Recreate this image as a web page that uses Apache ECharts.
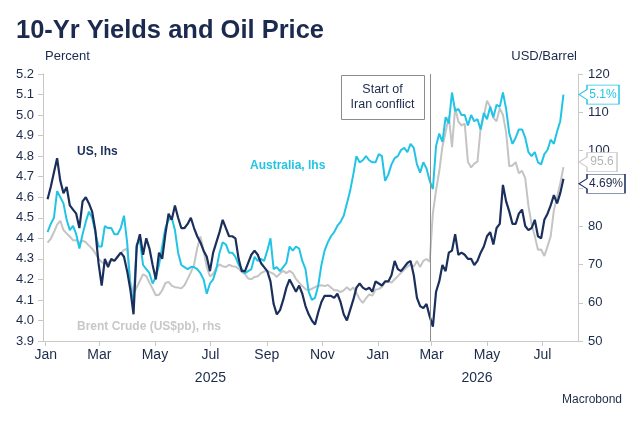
<!DOCTYPE html>
<html>
<head>
<meta charset="utf-8">
<script src="https://cdn.jsdelivr.net/npm/echarts@6/dist/echarts.min.js"></script>
<style>
    html, body { margin: 0; padding: 0; background: #fff; }
    #chart { width: 643px; height: 427px; }
</style>
</head>
<body>
<div id="chart"></div>
<script>
// observations every half week, first one on 3 Jan 2025
var firstObs = '2025-01-03'
var stepDays = 3.5

var usYield = [4.59, 4.65, 4.72, 4.79, 4.68, 4.62, 4.65, 4.56, 4.54, 4.52,
    4.45, 4.58, 4.60, 4.57, 4.53, 4.44, 4.28, 4.17, 4.30, 4.26,
    4.30, 4.29, 4.31, 4.33, 4.31, 4.24, 4.15, 4.03, 4.36, 4.42,
    4.32, 4.40, 4.35, 4.27, 4.20, 4.33, 4.30, 4.42, 4.52, 4.49,
    4.56, 4.50, 4.45, 4.45, 4.47, 4.50, 4.45, 4.41, 4.38, 4.34,
    4.31, 4.24, 4.33, 4.38, 4.43, 4.49, 4.45, 4.41, 4.41, 4.40,
    4.30, 4.24, 4.24, 4.28, 4.32, 4.34, 4.32, 4.28, 4.26, 4.24,
    4.19, 4.08, 4.03, 4.05, 4.10, 4.16, 4.20, 4.17, 4.14, 4.17,
    4.13, 4.07, 4.03, 4.00, 3.98, 4.04, 4.09, 4.12, 4.12, 4.12,
    4.11, 4.13, 4.09, 4.03, 4.00, 4.05, 4.10, 4.16, 4.18, 4.16,
    4.15, 4.16, 4.14, 4.19, 4.18, 4.17, 4.19, 4.19, 4.22, 4.29,
    4.25, 4.24, 4.26, 4.28, 4.29, 4.22, 4.11, 4.07, 4.06, 4.08,
    4.02, 3.97, 4.14, 4.19, 4.27, 4.24, 4.33, 4.34, 4.42, 4.32,
    4.33, 4.32, 4.30, 4.30, 4.27, 4.29, 4.33, 4.36, 4.41, 4.43,
    4.37, 4.45, 4.47, 4.66, 4.58, 4.53, 4.47, 4.47, 4.52, 4.54,
    4.46, 4.44, 4.45, 4.49, 4.41, 4.40, 4.49, 4.52, 4.56, 4.61,
    4.57, 4.62, 4.69]

var auYield = [4.43, 4.47, 4.50, 4.63, 4.60, 4.57, 4.49, 4.44, 4.46, 4.42,
    4.35, 4.42, 4.48, 4.53, 4.50, 4.43, 4.36, 4.36, 4.46, 4.45,
    4.45, 4.42, 4.42, 4.45, 4.51, 4.38, 4.16, 4.09, 4.37, 4.39,
    4.27, 4.25, 4.23, 4.18, 4.21, 4.27, 4.36, 4.45, 4.49, 4.50,
    4.44, 4.33, 4.27, 4.26, 4.25, 4.26, 4.26, 4.25, 4.23, 4.20,
    4.13, 4.18, 4.20, 4.25, 4.33, 4.38, 4.37, 4.33, 4.33, 4.31,
    4.27, 4.25, 4.23, 4.24, 4.25, 4.31, 4.29, 4.30, 4.29, 4.34,
    4.40, 4.25, 4.26, 4.24, 4.26, 4.28, 4.36, 4.34, 4.36, 4.35,
    4.29, 4.25, 4.14, 4.10, 4.11, 4.17, 4.27, 4.34, 4.38, 4.41,
    4.43, 4.46, 4.48, 4.51, 4.57, 4.63, 4.71, 4.80, 4.77, 4.78,
    4.80, 4.78, 4.77, 4.77, 4.81, 4.80, 4.68, 4.71, 4.76, 4.79,
    4.80, 4.83, 4.84, 4.82, 4.86, 4.84, 4.76, 4.72, 4.77, 4.74,
    4.68, 4.64, 4.85, 4.91, 4.87, 4.99, 4.96, 5.11, 5.02, 5.03,
    5.00, 5.00, 4.95, 5.00, 4.97, 4.98, 4.93, 5.01, 4.98, 5.04,
    4.99, 5.05, 5.04, 5.11, 5.03, 4.91, 4.86, 4.89, 4.93, 4.93,
    4.89, 4.82, 4.80, 4.82, 4.77, 4.76, 4.81, 4.83, 4.88, 4.86,
    4.92, 4.97, 5.10]

var brent = [75.8, 76.8, 78.5, 80.5, 81.5, 79.1, 78.2, 77.4, 76.4, 76.4,
    75.7, 76.3, 75.9, 75.0, 74.2, 73.0, 71.6, 70.7, 70.3, 70.6,
    71.0, 71.1, 72.2, 73.0, 73.9, 74.2, 65.5, 62.4, 64.1, 65.8,
    67.5, 67.0, 65.3, 63.7, 62.0, 62.1, 63.3, 65.2, 65.5, 64.5,
    64.1, 64.0, 63.8, 64.6, 66.3, 68.0, 70.0, 74.3, 77.4, 73.6,
    69.4, 66.9, 67.6, 69.2, 70.1, 69.6, 69.4, 70.0, 69.6, 69.5,
    69.0, 68.1, 67.5, 66.4, 66.2, 66.8, 67.0, 67.8, 68.2, 68.4,
    68.0, 67.6, 66.8, 67.7, 68.4, 67.8, 68.4, 67.8, 66.3, 65.3,
    64.4, 63.6, 63.3, 63.7, 64.1, 64.5, 64.6, 64.4, 64.7, 64.0,
    63.3, 63.3, 62.8, 63.3, 64.1, 63.3, 64.0, 62.6, 61.0, 60.0,
    61.2, 62.2, 61.9, 63.5, 63.6, 64.2, 65.5, 65.6, 65.3, 66.2,
    67.0, 67.9, 68.7, 69.5, 70.1, 69.5, 71.0, 69.4, 71.0, 71.5,
    70.8, 83.5, 89.5, 94.5, 101.0, 104.8, 109.0, 100.8, 111.2, 107.5,
    106.5, 107.0, 97.0, 95.5, 96.5, 97.0, 105.8, 109.0, 113.0, 111.4,
    108.5, 107.6, 111.0, 109.3, 104.7, 95.8, 96.0, 96.9, 94.0, 94.6,
    92.7, 85.5, 80.6, 77.5, 73.9, 74.0, 72.3, 74.8, 77.5, 84.3,
    87.8, 91.3, 95.6]

var monthTicks = ['2025-01-01', '2025-03-01', '2025-05-01', '2025-07-01', '2025-09-01', '2025-11-01',
    '2026-01-01', '2026-03-01', '2026-05-01', '2026-07-01']
var monthNames = ['Jan', 'Feb', 'Mar', 'Apr', 'May', 'Jun', 'Jul', 'Aug', 'Sep', 'Oct', 'Nov', 'Dec']
var yearTicks = ['2025-07-01', '2026-04-20']
var axisStart = '2024-12-29'
var axisEnd = '2026-08-09'
var conflictDate = '2026-02-28'

var navy = '#1b2f5c'
var cyan = '#22c4e6'
var grey = '#c4c4c4'
var textColor = '#1c2b4b'
var fontFamily = '"Liberation Sans", Arial, sans-serif'

function toTime(s) {
    var p = s.split('-')
    return new Date(+p[0], +p[1] - 1, +p[2]).getTime()
}

function withDates(values) {
    var t0 = toTime(firstObs)
    return values.map(function (v, i) {
        return [t0 + i * stepDays * 86400000, v]
    })
}

var xMin = toTime(axisStart)
var xMax = toTime(axisEnd)

// value tag sitting on the right axis, pointing left
function tag(text, value, color, textCol, width, dy) {
    var w = width, h = 19
    return {
        symbol: 'path://M0,9.5L8,4.5L8,0L' + w + ',0L' + w + ',19L8,19L8,14.5Z',
        symbolSize: [w, h],
        symbolOffset: [w / 2 + 1, dy],
        silent: true,
        itemStyle: { color: '#fff', borderColor: color, borderWidth: 1 },
        label: {
            show: true, position: 'inside', offset: [4, 0],
            formatter: text, color: textCol, fontSize: 12, fontFamily: fontFamily
        },
        data: [{ coord: [xMax, value] }]
    }
}

var myChart = echarts.init(document.getElementById('chart'))

myChart.setOption({
    animation: false,
    backgroundColor: '#fff',
    textStyle: { fontFamily: fontFamily },
    grid: { left: 43, right: 65, top: 74, bottom: 86 },
    xAxis: [
        {
            type: 'value',
            min: xMin,
            max: xMax,
            axisLine: { lineStyle: { color: '#c8c8c8', width: 1 } },
            axisTick: { show: true, length: 5, customValues: monthTicks.map(toTime), lineStyle: { color: '#c8c8c8' } },
            axisLabel: {
                customValues: monthTicks.map(toTime),
                formatter: function (v) { return monthNames[new Date(v).getMonth()] },
                color: textColor, fontSize: 14, margin: 7, fontFamily: fontFamily
            },
            splitLine: { show: false }
        },
        {
            type: 'value',
            position: 'bottom',
            offset: 23,
            min: xMin,
            max: xMax,
            axisLine: { show: false },
            axisTick: { show: false },
            axisLabel: {
                customValues: yearTicks.map(toTime),
                formatter: function (v) { return String(new Date(v).getFullYear()) },
                color: textColor, fontSize: 14, margin: 7, fontFamily: fontFamily
            },
            splitLine: { show: false }
        }
    ],
    yAxis: [
        {
            type: 'value',
            min: 3.9, max: 5.2, interval: 0.1,
            axisLine: { show: true, lineStyle: { color: '#c8c8c8' } },
            axisTick: { show: true, length: 5, lineStyle: { color: '#c8c8c8' } },
            axisLabel: {
                formatter: function (v) { return v.toFixed(1) },
                color: textColor, fontSize: 13, margin: 9, fontFamily: fontFamily
            },
            splitLine: { show: false }
        },
        {
            type: 'value',
            min: 50, max: 120, interval: 10,
            position: 'right',
            axisLine: { show: true, lineStyle: { color: '#c8c8c8' } },
            axisTick: { show: true, length: 5, lineStyle: { color: '#c8c8c8' } },
            axisLabel: { color: textColor, fontSize: 13, margin: 10, fontFamily: fontFamily },
            splitLine: { show: false }
        }
    ],
    graphic: [
        { type: 'text', left: 16, top: 18, style: { text: '10-Yr Yields and Oil Price', fill: '#1b2a4e', font: 'bold 25.5px ' + fontFamily } },
        { type: 'text', left: 45, top: 50, style: { text: 'Percent', fill: textColor, font: '13px ' + fontFamily } },
        { type: 'text', right: 66, top: 50, style: { text: 'USD/Barrel', fill: textColor, font: '13px ' + fontFamily } },
        { type: 'text', left: 77, top: 146, style: { text: 'US, lhs', fill: navy, font: 'bold 12px ' + fontFamily } },
        { type: 'text', left: 250, top: 160, style: { text: 'Australia, lhs', fill: cyan, font: 'bold 12px ' + fontFamily } },
        { type: 'text', left: 77, top: 321, style: { text: 'Brent Crude (US$pb), rhs', fill: '#c8c8c8', font: 'bold 12px ' + fontFamily } },
        { type: 'text', right: 21, top: 394, style: { text: 'Macrobond', fill: textColor, font: '12px ' + fontFamily } },
        {
            type: 'rect', left: 341, top: 75, z: 10,
            shape: { width: 83, height: 44 },
            style: { fill: '#fff', stroke: '#8c8c8c', lineWidth: 1 }
        },
        {
            type: 'text', x: 382.5, y: 82, z: 11,
            style: {
                text: 'Start of\nIran conflict', align: 'center', verticalAlign: 'top',
                fill: textColor, font: '12.5px ' + fontFamily, lineHeight: 15
            }
        }
    ],
    series: [
        {
            name: 'Brent Crude (US$pb), rhs',
            type: 'line',
            yAxisIndex: 1,
            showSymbol: false,
            data: withDates(brent),
            lineStyle: { color: grey, width: 2 },
            itemStyle: { color: grey },
            z: 2,
            markPoint: tag('95.6', brent[brent.length - 1], '#c8c8c8', '#b4b4b4', 38, -5)
        },
        {
            name: 'Australia, lhs',
            type: 'line',
            showSymbol: false,
            data: withDates(auYield),
            lineStyle: { color: cyan, width: 2 },
            itemStyle: { color: cyan },
            z: 3,
            markPoint: tag('5.1%', auYield[auYield.length - 1], cyan, cyan, 40, 0)
        },
        {
            name: 'US, lhs',
            type: 'line',
            showSymbol: false,
            data: withDates(usYield),
            lineStyle: { color: navy, width: 2.2 },
            itemStyle: { color: navy },
            z: 4,
            markLine: {
                silent: true,
                symbol: 'none',
                label: { show: false },
                lineStyle: { color: '#8c8c8c', width: 1, type: 'solid' },
                data: [{ xAxis: toTime(conflictDate) }]
            },
            markPoint: tag('4.69%', usYield[usYield.length - 1], navy, textColor, 46, 5)
        }
    ]
})
</script>
</body>
</html>
